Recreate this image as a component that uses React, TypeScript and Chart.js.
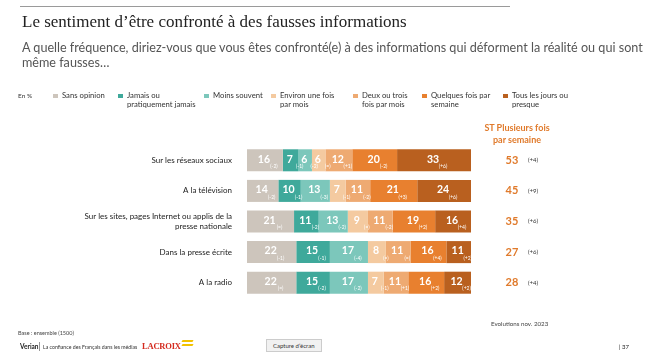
import { useEffect, useRef } from "react";
import { Chart, registerables } from "chart.js";
Chart.register(...registerables);

const categories: (string | string[])[] = [
  "Sur les réseaux sociaux",
  "A la télévision",
  ["Sur les sites, pages Internet ou applis de la", "presse nationale"],
  "Dans la presse écrite",
  "A la radio",
];
const seriesNames = [
  "Sans opinion",
  "Jamais ou pratiquement jamais",
  "Moins souvent",
  "Environ une fois par mois",
  "Deux ou trois fois par mois",
  "Quelques fois par semaine",
  "Tous les jours ou presque",
];
const legendLines = [
  ["Sans opinion"],
  ["Jamais ou", "pratiquement jamais"],
  ["Moins souvent"],
  ["Environ une fois", "par mois"],
  ["Deux ou trois", "fois par mois"],
  ["Quelques fois par", "semaine"],
  ["Tous les jours ou", "presque"],
];
const seriesColors = ["#cdc5bc", "#3fa99b", "#7cc7bb", "#f4caa0", "#eeaa72", "#e8802f", "#b9601f"];

const sansOpinion = [16, 14, 21, 22, 22];
const jamais = [7, 10, 11, 15, 15];
const moinsSouvent = [6, 13, 13, 17, 17];
const uneFoisParMois = [6, 7, 9, 8, 7];
const deuxTroisParMois = [12, 11, 11, 11, 11];
const quelquesFoisSemaine = [20, 21, 19, 16, 16];
const tousLesJours = [33, 24, 16, 11, 12];

const evoSansOpinion = ["-2", "-2", "=", "-1", "="];
const evoJamais = ["-1", "-1", "-2", "-1", "-2"];
const evoMoinsSouvent = ["-2", "-3", "-2", "-4", "-2"];
const evoUneFois = ["=", "-1", "=", "=", "-1"];
const evoDeuxTrois = ["+1", "-2", "-2", "=", "+1"];
const evoQuelquesFois = ["-2", "+3", "+2", "+4", "+2"];
const evoTousLesJours = ["+6", "+6", "+4", "+2", "+2"];

const stPlusieurs = [53, 45, 35, 27, 28];
const stEvo = ["+4", "+9", "+6", "+6", "+4"];

const seriesValues = [sansOpinion, jamais, moinsSouvent, uneFoisParMois, deuxTroisParMois, quelquesFoisSemaine, tousLesJours];
const seriesEvos = [evoSansOpinion, evoJamais, evoMoinsSouvent, evoUneFois, evoDeuxTrois, evoQuelquesFois, evoTousLesJours];

const FONT = "Lato, 'DejaVu Sans', sans-serif";
const ORANGE = "#e07a2b";

const labelsPlugin = {
  id: "segLabels",
  afterDatasetsDraw(chart: any) {
    const ctx = chart.ctx;
    ctx.save();
    chart.data.datasets.forEach((ds: any, di: number) => {
      const meta = chart.getDatasetMeta(di);
      meta.data.forEach((bar: any, i: number) => {
        const cx = (bar.x + bar.base) / 2;
        const cy = bar.y;
        ctx.fillStyle = "#ffffff";
        ctx.textAlign = "center";
        ctx.textBaseline = "middle";
        ctx.font = `bold 10.5px ${FONT}`;
        ctx.fillText(String(ds.data[i]), cx - 1, cy - 1);
        ctx.font = `5px ${FONT}`;
        ctx.fillText(`(${seriesEvos[di][i]})`, cx + 9, cy + 6);
      });
    });
    const yScale = chart.scales.y;
    stPlusieurs.forEach((v, i) => {
      const y = yScale.getPixelForValue(i);
      ctx.fillStyle = ORANGE;
      ctx.textAlign = "center";
      ctx.textBaseline = "middle";
      ctx.font = `bold 11px ${FONT}`;
      ctx.fillText(String(v), 512, y);
      ctx.fillStyle = "#333";
      ctx.textAlign = "left";
      ctx.font = `6px ${FONT}`;
      ctx.fillText(`(${stEvo[i]})`, 528, y);
    });
    ctx.restore();
  },
};

export default function App() {
  const ref = useRef<HTMLCanvasElement | null>(null);
  useEffect(() => {
    if (!ref.current) return;
    const chart = new Chart(ref.current, {
      type: "bar",
      data: {
        labels: categories as any,
        datasets: seriesNames.map((name, i) => ({
          label: name,
          data: seriesValues[i],
          backgroundColor: seriesColors[i],
          borderWidth: 0,
          barPercentage: 0.72,
          categoryPercentage: 1,
        })),
      },
      options: {
        indexAxis: "y",
        animation: false,
        responsive: false,
        devicePixelRatio: 1,
        layout: { padding: { left: 0, right: 176, top: 145, bottom: 58 } },
        plugins: { legend: { display: false }, tooltip: { enabled: false } },
        scales: {
          x: { stacked: true, min: 0, max: 100, display: false },
          y: {
            stacked: true,
            grid: { display: false },
            border: { display: false },
            ticks: { color: "#222", font: { family: FONT, size: 8 }, padding: 7 },
            afterFit: (s: any) => {
              s.width = 247;
            },
          },
        },
      },
      plugins: [labelsPlugin],
    });
    return () => chart.destroy();
  }, []);

  const abs = (x: number, y: number, extra: any = {}) => ({
    position: "absolute" as const,
    left: x,
    top: y,
    whiteSpace: "nowrap" as const,
    fontFamily: FONT,
    ...extra,
  });
  const legendX = [53, 118, 204, 271, 353, 422, 503];

  return (
    <div style={{ position: "absolute", left: 0, top: 0, width: 647, height: 356, background: "#fff", overflow: "hidden" }}>
      <canvas ref={ref} width={647} height={356} style={{ position: "absolute", left: 0, top: 0 }} />
      <div style={{ position: "absolute", left: 20, top: 6, width: 490, height: 1, background: "#9a9a9a" }} />
      <div style={abs(22, 11, { fontFamily: "'Liberation Serif', serif", fontSize: 17, color: "#222", lineHeight: "22px" })}>
        Le sentiment d’être confronté à des fausses informations
      </div>
      <div style={abs(22, 40, { fontSize: 12.6, color: "#555", lineHeight: "15px" })}>
        <div>A quelle fréquence, diriez-vous que vous êtes confronté(e) à des informations qui déforment la réalité ou qui sont</div>
        <div>même fausses…</div>
      </div>
      <div style={abs(18, 92, { fontSize: 6.5, color: "#333" })}>En %</div>
      {legendLines.map((lines, i) => (
        <div key={i}>
          <div style={{ position: "absolute", left: legendX[i], top: 94, width: 5, height: 4, background: seriesColors[i] }} />
          <div style={abs(legendX[i] + 9, 91, { fontSize: 7.7, color: "#333", lineHeight: "9px" })}>
            {lines.map((l, j) => (
              <div key={j}>{l}</div>
            ))}
          </div>
        </div>
      ))}
      <div style={abs(470, 122, { width: 94, textAlign: "center", fontSize: 9, fontWeight: 700, color: ORANGE, lineHeight: "12px" })}>
        <div>ST Plusieurs fois</div>
        <div>par semaine</div>
      </div>
      <div style={abs(491, 320, { fontSize: 6.2, color: "#444" })}>Evolutions nov. 2023</div>
      <div style={abs(18, 330, { fontSize: 5.5, color: "#444" })}>Base : ensemble (1500)</div>
      <div style={abs(20, 343, { fontSize: 6.5, fontWeight: 700, color: "#222" })}>Verian</div>
      <div style={{ position: "absolute", left: 39, top: 342, width: 1, height: 9, background: "#999" }} />
      <div style={abs(43, 343.5, { fontSize: 5.2, color: "#333" })}>La confiance des Français dans les médias</div>
      <div style={abs(142, 341, { fontFamily: "'Liberation Serif', serif", fontSize: 8.5, fontWeight: 700, color: "#d42a1e", letterSpacing: "-0.2px" })}>
        LACROIX
      </div>
      <div style={{ position: "absolute", left: 182, top: 340, width: 11, height: 2, background: "#f2c200", transform: "skewX(-30deg)" }} />
      <div style={{ position: "absolute", left: 182, top: 344, width: 11, height: 2, background: "#f2c200", transform: "skewX(-30deg)" }} />
      <div style={abs(266, 339, { fontSize: 6, color: "#333", background: "#f1f1f1", border: "1px solid #ccc", padding: "2px 6px" })}>
        Capture d’écran
      </div>
      <div style={abs(619, 343, { fontSize: 6, color: "#222" })}>| 37</div>
    </div>
  );
}
